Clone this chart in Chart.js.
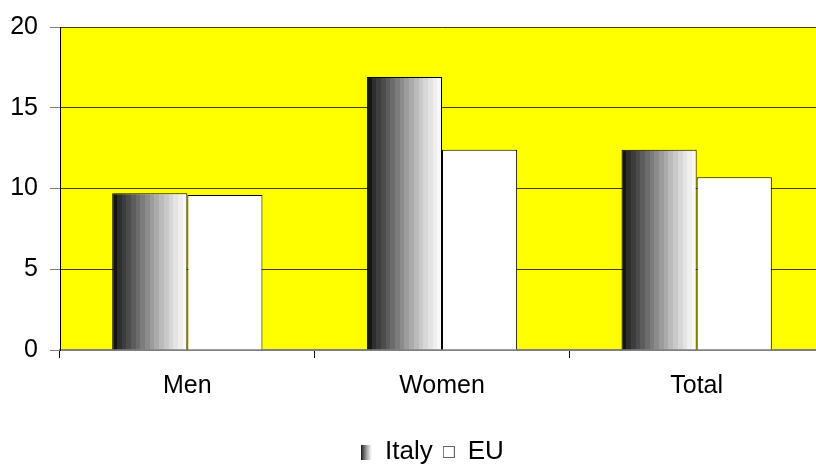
<!DOCTYPE html>
<html>
<head>
<meta charset="utf-8">
<script src="https://cdn.jsdelivr.net/npm/chart.js@4.4.1/dist/chart.umd.min.js"></script>
<style>
  html, body { margin: 0; padding: 0; background: #fff; overflow: hidden; }
  #wrap { width: 824px; height: 464px; }
</style>
</head>
<body>
<div id="wrap"><canvas id="myChart"></canvas></div>
<script>
var categories = ['Men', 'Women', 'Total'];
var italy = [9.7, 16.9, 12.4];
var eu = [9.6, 12.4, 10.7];
var yMax = 20;
var yStep = 5;

var catPct = 0.59;

// grey bands for the Italy bars, dark on the left to white on the right
var shades = ['#151515', '#2e2e2e', '#3d3d3d', '#4c4c4c', '#5c5c5c', '#6c6c6c', '#7c7c7c', '#8c8c8c',
              '#9c9c9c', '#ababab', '#bbbbbb', '#c9c9c9', '#d7d7d7', '#e4e4e4', '#efefef', '#f8f8f8'];

function banded(ctx, left, right) {
    var g = ctx.createLinearGradient(left, 0, right, 0);
    var n = shades.length;
    shades.forEach(function (s, i) {
        g.addColorStop(i / n, s);
        g.addColorStop((i + 1) / n, s);
    });
    return g;
}

function italyFill(c) {
    var chart = c.chart;
    var x = chart.scales.x;
    if (!chart.chartArea || !x || c.dataIndex === undefined) return '#888';
    var cw = (x.right - x.left) / categories.length;
    var center = x.getPixelForValue(c.dataIndex);
    return banded(chart.ctx, center - cw * catPct / 2, center);
}

// little legend markers
var italyMark = document.createElement('canvas');
italyMark.width = 11; italyMark.height = 15;
(function () {
    var m = italyMark.getContext('2d');
    m.fillStyle = banded(m, 0, 11);
    m.fillRect(0, 0, 11, 15);
})();
var euMark = document.createElement('canvas');
euMark.width = 12; euMark.height = 12;
(function () {
    var m = euMark.getContext('2d');
    m.fillStyle = '#fff';
    m.fillRect(0, 0, 12, 12);
    m.strokeStyle = '#666';
    m.lineWidth = 1;
    m.strokeRect(0.5, 0.5, 11, 11);
})();

var plotBg = {
    id: 'plotBg',
    beforeDraw: function (chart) {
        var a = chart.chartArea;
        chart.ctx.save();
        chart.ctx.fillStyle = '#ffff00';
        chart.ctx.fillRect(a.left, a.top, a.right - a.left, a.bottom - a.top);
        chart.ctx.restore();
    }
};

// legend sits a bit right of the canvas centre
var legendShift = {
    id: 'legendShift',
    afterLayout: function (chart) {
        if (!chart.legend) return;
        chart.legend.left += 20;
        chart.legend.right += 20;
    }
};

Chart.defaults.font.family = 'Arial, "Liberation Sans", sans-serif';
Chart.defaults.font.size = 25;
Chart.defaults.color = '#000';

var myChart = new Chart(document.getElementById('myChart').getContext('2d'), {
    type: 'bar',
    data: {
        labels: categories,
        datasets: [{
            label: 'Italy',
            data: italy,
            backgroundColor: italyFill,
            borderColor: '#000',
            borderWidth: 1,
            pointStyle: italyMark
        }, {
            label: 'EU',
            data: eu,
            backgroundColor: '#fff',
            borderColor: '#000',
            borderWidth: 1,
            pointStyle: euMark
        }]
    },
    options: {
        responsive: true,
        maintainAspectRatio: false,
        animation: false,
        datasets: { bar: { categoryPercentage: catPct, barPercentage: 1 } },
        layout: { padding: { top: 26, right: 0, left: 0, bottom: -11 } },
        plugins: {
            tooltip: { enabled: false },
            legend: {
                position: 'bottom',
                labels: {
                    usePointStyle: true,
                    boxWidth: 12,
                    padding: 10,
                    font: { size: 26 }
                }
            }
        },
        scales: {
            x: {
                grid: { offset: true, drawOnChartArea: false, tickLength: 8, tickColor: '#000' },
                border: { color: '#808080', width: 2 },
                ticks: { padding: 13 },
                afterFit: function (s) { s.height = 79; }
            },
            y: {
                min: 0,
                max: yMax,
                ticks: { stepSize: yStep, padding: 12 },
                grid: { color: 'rgba(0,0,0,0.75)', tickLength: 10, tickColor: '#808080' },
                border: { color: '#000', width: 1 },
                afterFit: function (s) { s.width = 60; }
            }
        }
    },
    plugins: [plotBg, legendShift]
});
</script>
</body>
</html>
